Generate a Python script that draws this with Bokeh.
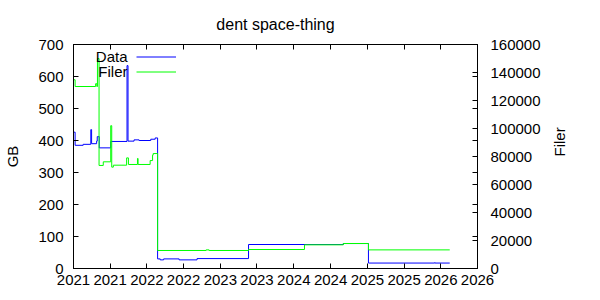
import math
import numpy as np
from bokeh.plotting import figure
from bokeh.models import (Range1d, LinearAxis, DatetimeAxis, FixedTicker, DatetimeTickFormatter,
                          NumeralTickFormatter, Legend, LegendItem, Label)
from bokeh.embed import file_html
from bokeh.resources import INLINE

title_text = "dent space-thing"
left_label = "GB"
right_label = "Filer"
series_names = ["Data", "Filer"]

data_dates = ["2021-01-01", "2021-01-09", "2021-02-18", "2021-03-28", "2021-04-01", "2021-04-26",
              "2021-04-29", "2021-05-09", "2021-07-05", "2021-09-24", "2021-09-29", "2021-10-29",
              "2021-11-23", "2022-01-20", "2022-02-11", "2022-02-23", "2022-03-08", "2022-03-25",
              "2022-06-10", "2022-09-07", "2023-05-21", "2024-09-03", "2025-01-06", "2025-12-01",
              "2025-12-03", "2026-02-14"]
data_gb = [426, 385, 388, 434, 390, 398,
           412, 377, 397, 634, 398, 402,
           400, 404, 408, 30, 27, 30,
           27, 31, 75, 78, 17, 18,
           17, 17]

filer_dates = ["2021-01-01", "2021-01-09", "2021-04-21", "2021-04-27", "2021-04-30", "2021-05-08",
               "2021-05-29", "2021-07-05", "2021-07-10", "2021-07-18", "2021-09-22", "2021-10-01",
               "2021-11-15", "2021-11-18", "2022-01-17", "2022-01-29", "2022-02-01", "2022-02-23",
               "2022-10-22", "2022-11-06", "2023-05-21", "2024-02-23", "2024-09-03", "2025-01-06",
               "2026-02-14"]
filer_count = [134800, 130000, 132000, 130000, 150000, 73600,
               76200, 102000, 72400, 73800, 79000, 74300,
               78600, 74300, 77100, 81000, 82100, 12860,
               13300, 12860, 13570, 16900, 17860, 13300,
               13300]

x_tick_dates = ["2021-01-01", "2021-07-02", "2022-01-01", "2022-07-02", "2023-01-01", "2023-07-02",
                "2024-01-01", "2024-07-02", "2025-01-01", "2025-07-02", "2026-01-01", "2026-07-02"]
left_ticks = [0, 100, 200, 300, 400, 500, 600, 700]
right_ticks = [0, 20000, 40000, 60000, 80000, 100000, 120000, 140000, 160000]

FONT = "Liberation Sans"


def to_ms(dates):
    return [float((np.datetime64(d, "ms") - np.datetime64("1970-01-01", "ms")) / np.timedelta64(1, "ms"))
            for d in dates]


x_ticks_ms = to_ms(x_tick_dates)
left_max, right_max = left_ticks[-1], right_ticks[-1]
mirror_ticks = [v * right_max / left_max for v in left_ticks[1:-1]]

p = figure(width=600, height=300, output_backend="svg", toolbar_location=None,
           x_axis_type="datetime",
           x_range=Range1d(x_ticks_ms[0], x_ticks_ms[-1]),
           y_range=Range1d(0, left_max),
           min_border_left=73, min_border_right=123, min_border_top=44, min_border_bottom=32)
p.extra_y_ranges = {"filer": Range1d(0, right_max)}
p.grid.visible = False
p.outline_line_color = "black"
p.outline_line_width = 1
p.background_fill_color = "white"
p.border_fill_color = "white"

p.title.text = title_text
p.title.align = "center"
p.title.text_font = FONT
p.title.text_font_size = "16px"
p.title.text_font_style = "normal"
p.title.text_color = "black"
p.title.standoff = 24

fmt = DatetimeTickFormatter(years="%Y", months="%Y", days="%Y", hours="%Y", minutes="%Y",
                            seconds="%Y", milliseconds="%Y", microseconds="%Y", minsec="%Y",
                            hourmin="%Y")


def style_axis(ax):
    ax.axis_line_color = "black"
    ax.major_tick_line_color = "black"
    ax.minor_tick_line_color = "black"
    ax.major_tick_in = 5
    ax.major_tick_out = 0
    ax.minor_tick_in = 0
    ax.minor_tick_out = 0
    ax.major_label_text_font = FONT
    ax.major_label_text_font_size = "15px"
    ax.major_label_text_color = "black"
    ax.axis_label_text_font = FONT
    ax.axis_label_text_font_size = "15px"
    ax.axis_label_text_font_style = "normal"
    ax.axis_label_text_color = "black"


xa = p.xaxis[0]
style_axis(xa)
xa.ticker = FixedTicker(ticks=x_ticks_ms)
xa.formatter = fmt
xa.major_label_standoff = 6

ya = p.yaxis[0]
style_axis(ya)
ya.ticker = FixedTicker(ticks=left_ticks)
ya.major_label_standoff = 10
ya.axis_label = left_label
ya.axis_label_standoff = 14

ra = LinearAxis(y_range_name="filer", ticker=FixedTicker(ticks=right_ticks, minor_ticks=mirror_ticks),
                formatter=NumeralTickFormatter(format="0"))
style_axis(ra)
ra.minor_tick_in = 5
ra.major_label_standoff = 13
ra.axis_label = right_label
ra.axis_label_standoff = 16
ra.axis_label_orientation = math.pi / 2
p.add_layout(ra, "right")

ta = DatetimeAxis(ticker=FixedTicker(ticks=x_ticks_ms), formatter=fmt)
style_axis(ta)
ta.major_label_text_font_size = "1px"
ta.major_label_text_color = None
ta.major_label_standoff = 0
p.add_layout(ta, "above")

x_data = np.array(data_dates, dtype="datetime64[ms]")
x_filer = np.array(filer_dates, dtype="datetime64[ms]")
r_data = p.step(x_data, data_gb, mode="after", line_color="#0000ff", line_width=1)
r_filer = p.step(x_filer, filer_count, mode="after", line_color="#00ff00", line_width=1,
                 y_range_name="filer")

legend = Legend(items=[LegendItem(label=" ", renderers=[r_data]),
                       LegendItem(label=" ", renderers=[r_filer])],
                location=(63, 189.5), padding=0, margin=0, spacing=0,
                glyph_width=40, glyph_height=15, label_height=15, label_width=0,
                label_standoff=0, label_text_font_size="1px",
                border_line_color=None, background_fill_alpha=0)
p.add_layout(legend)

for name, yy in zip(series_names, [212, 196.7]):
    p.add_layout(Label(x=54, y=yy, x_units="screen", y_units="screen", text=name,
                       text_align="right", text_baseline="middle", text_font=FONT,
                       text_font_size="15px", text_color="black"))

open("out.html", "w").write(file_html(p, INLINE))
